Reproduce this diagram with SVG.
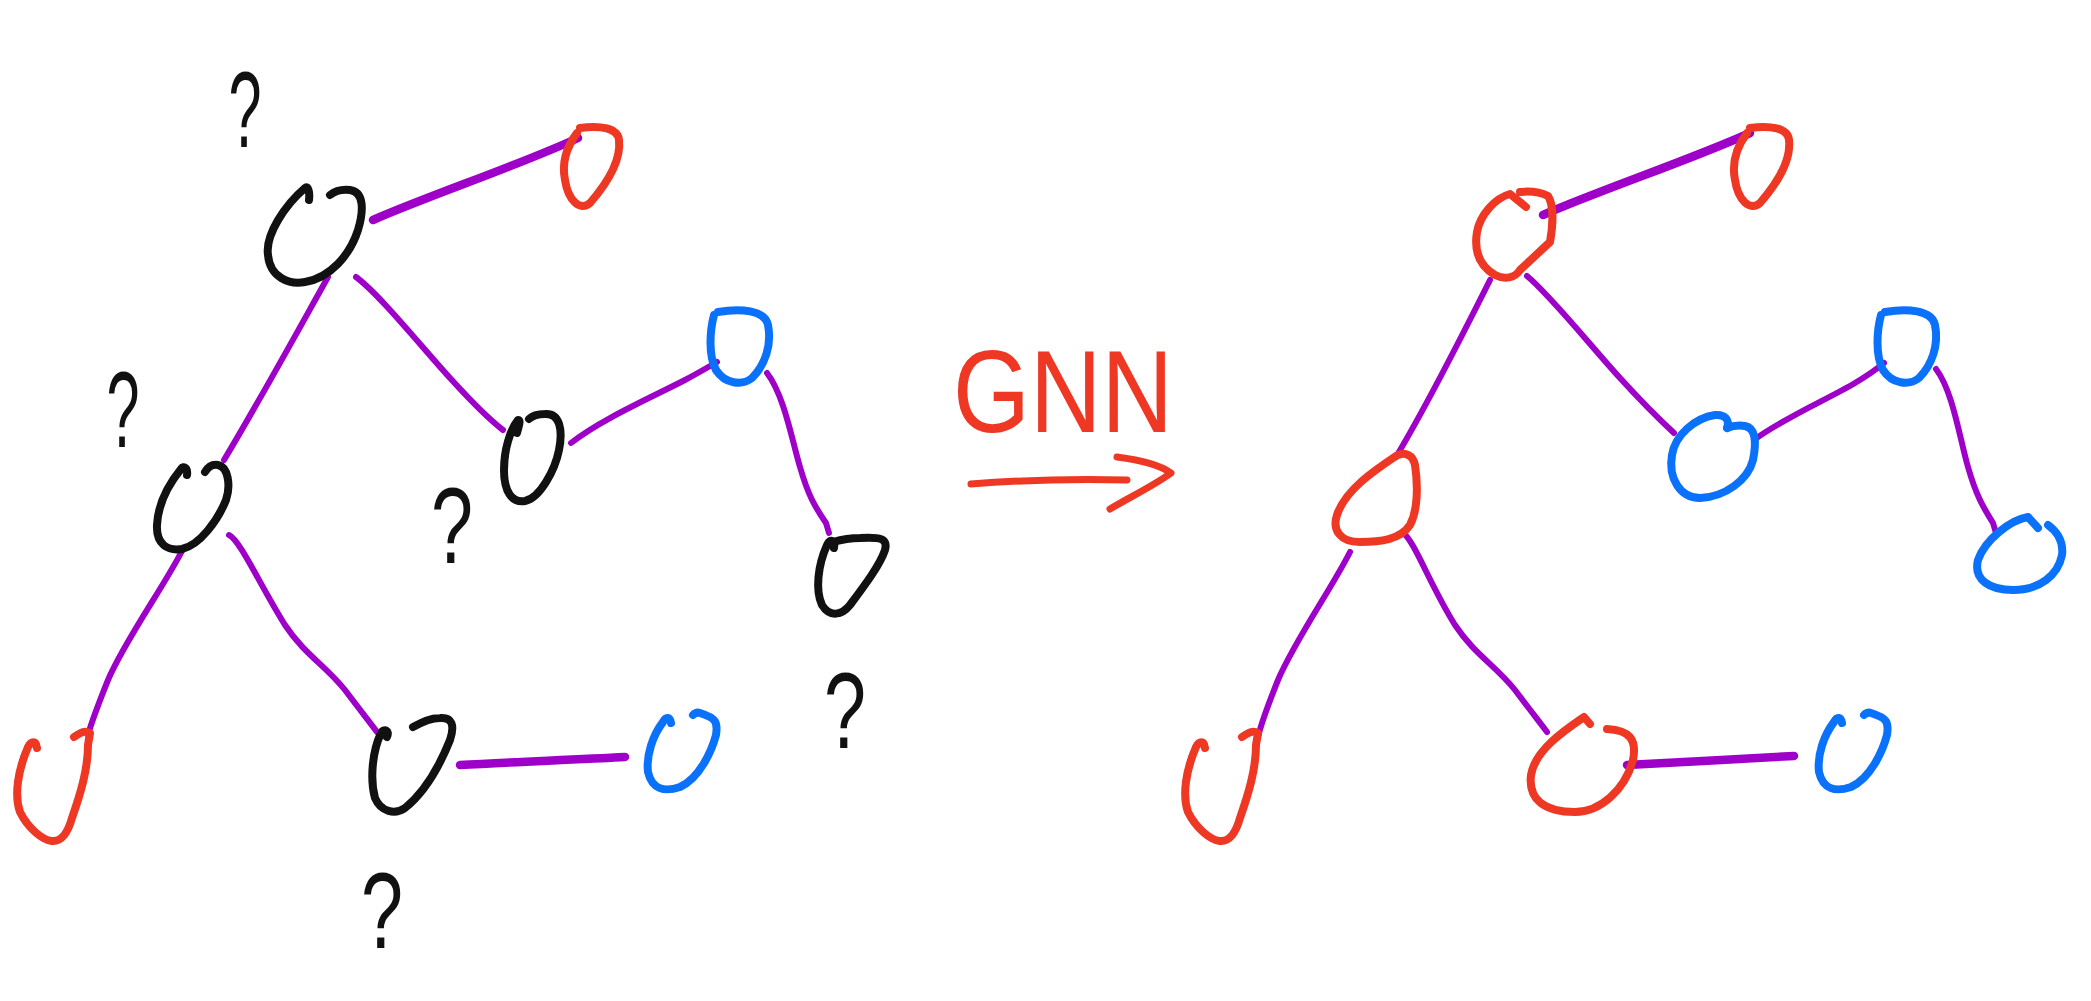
<svg xmlns="http://www.w3.org/2000/svg" width="2091" height="1001" viewBox="0 0 2091 1001">
<style>
.n{fill:none;stroke-width:8;stroke-linecap:round;stroke-linejoin:round}
.k{stroke:#111111}
.r{stroke:#EE3824}
.b{stroke:#0A72FA}
.e{fill:none;stroke:#9E00C9;stroke-width:6;stroke-linecap:round;stroke-linejoin:round}
.t{stroke-width:8.5}
.q{font-family:"Liberation Sans",Arial,sans-serif;font-size:108px;fill:#111111;text-anchor:middle}
.g{font-family:"Liberation Sans",Arial,sans-serif;font-size:117px;fill:#EE3824}
</style>
<rect width="2091" height="1001" fill="#ffffff"/>
<g id="connectors">
<path class="e t" d="M373,220 C430,195 520,165 578,138"/>
<path class="e" d="M328,277 C300,327 260,400 224,460"/>
<path class="e" d="M356,277 C380,295 420,345 450,378 C470,400 490,420 503,430"/>
<path class="e" d="M571,443 C600,420 650,398 685,380 C700,372 710,366 717,362"/>
<path class="e" d="M767,373 C784,395 792,440 800,467 C808,495 815,507 826,523 L829,533"/>
<path class="e" d="M183,549 C165,585 125,640 108,680 C98,705 92,720 88,735"/>
<path class="e" d="M229,535 C240,540 260,585 285,625 C305,655 325,665 345,690 C360,710 372,725 377,732"/>
<path class="e t" d="M460,765 C510,762 570,760 625,757"/>
<path class="e t" d="M1543,215 C1600,190 1690,160 1750,133"/>
<path class="e" d="M1490,280 C1465,330 1430,400 1396,457"/>
<path class="e" d="M1527,276 C1550,295 1590,345 1620,378 C1640,400 1660,420 1674,433"/>
<path class="e" d="M1754,440 C1780,420 1830,398 1855,383 C1870,374 1878,368 1884,363"/>
<path class="e" d="M1936,369 C1953,391 1960,440 1968,467 C1976,495 1983,507 1993,523 L1996,533"/>
<path class="e" d="M1350,552 C1332,588 1295,640 1278,680 C1268,705 1262,720 1258,737"/>
<path class="e" d="M1403,533 C1414,540 1430,585 1455,625 C1475,655 1495,665 1515,690 C1530,710 1542,725 1547,732"/>
<path class="e t" d="M1627,765 C1680,762 1740,759 1794,756"/>
</g>
<g id="left-root"><path class="n k" d="M309,200 C310,192 308,185 305,188 C285,205 265,235 268,255 C270,278 290,285 305,282 C330,278 350,255 358,230 C364,210 364,192 350,190 C342,189 335,191 330,195"/></g>
<g id="left-top-red"><path class="n r" d="M580,128 C600,125 618,128 619,140 C621,158 610,180 590,203 C580,212 568,200 565,180 C561,160 568,145 577,133"/></g>
<g id="left-mid"><path class="n k" d="M187,475 C188,468 184,465 181,469 C168,485 158,505 157,525 C156,545 168,551 182,549 C200,545 218,520 226,500 C231,485 228,467 218,465 C212,464 208,467 205,472"/></g>
<g id="left-center"><path class="n k" d="M517,433 C519,426 521,419 518,420 C510,430 504,450 504,470 C504,492 512,503 525,501 C540,498 555,470 559,450 C563,430 560,413 545,414 C538,414 532,416 529,419"/></g>
<g id="left-top-blue"><path class="n b" d="M718,312 C740,308 765,310 768,325 C772,345 765,365 752,378 C742,386 725,384 716,370 C708,355 710,330 714,315"/></g>
<g id="left-right-black"><path class="n k" d="M834,548 C836,540 830,538 827,545 C818,565 815,590 822,605 C830,618 842,615 850,605 C865,585 880,565 885,550 C888,538 880,537 860,538 C850,538 840,540 833,542"/></g>
<g id="left-bottom-red"><path class="n r" d="M37,748 C36,740 31,741 28,747 C18,770 14,795 20,812 C28,828 42,840 52,841 C62,842 68,832 72,818 C80,795 88,770 88,745 L90,733 C84,730 80,733 74,737"/></g>
<g id="left-bottom-mid"><path class="n k" d="M387,737 C390,730 384,728 381,733 C372,752 370,780 375,798 C381,812 395,815 405,808 C425,792 440,765 450,740 C455,725 452,717 440,718 C430,718 422,722 413,727"/></g>
<g id="left-bottom-blue"><path class="n b" d="M671,723 C670,717 666,716 663,722 C653,735 646,755 648,772 C652,790 665,792 680,787 C700,778 712,750 716,735 C718,722 716,718 700,713 C697,712 695,713 693,715"/></g>
<g id="q1"><text class="q" x="245" y="147" transform="translate(245,0) scale(0.55,1) translate(-245,0)">?</text></g>
<g id="q2"><text class="q" x="123" y="447" transform="translate(123,0) scale(0.55,1) translate(-123,0)">?</text></g>
<g id="q3"><text class="q" x="452" y="563" transform="translate(452,0) scale(0.7,1) translate(-452,0)">?</text></g>
<g id="q4"><text class="q" x="845" y="748" transform="translate(845,0) scale(0.7,1) translate(-845,0)">?</text></g>
<g id="q5"><text class="q" x="382" y="948" transform="translate(382,0) scale(0.7,1) translate(-382,0)">?</text></g>
<g id="gnn">
<text class="g" x="953" y="432" textLength="220" lengthAdjust="spacingAndGlyphs">GNN</text>
<path fill="none" stroke="#EE3824" stroke-width="7" stroke-linecap="round" stroke-linejoin="round" d="M971,484 C1020,480 1080,479 1127,480"/>
<path fill="none" stroke="#EE3824" stroke-width="7" stroke-linecap="round" stroke-linejoin="round" d="M1117,457 C1140,460 1160,465 1171,473 C1155,485 1130,497 1110,509"/>
</g>
<g id="right-root"><path class="n r" d="M1526,207 L1510,194 C1495,198 1480,215 1477,232 C1474,250 1478,265 1495,275 C1505,280 1515,278 1520,270 L1550,242 C1553,225 1554,205 1548,196 C1540,192 1530,191 1520,192"/></g>
<g id="right-top-red"><path class="n r" d="M1750,128 C1770,125 1788,128 1789,140 C1791,158 1780,180 1760,203 C1750,212 1738,200 1735,180 C1731,160 1738,145 1747,133"/></g>
<g id="right-mid"><path class="n r" d="M1396,456 C1375,470 1345,490 1337,515 C1332,530 1340,542 1360,542 C1380,542 1400,540 1410,525 C1418,510 1418,485 1415,465 C1413,455 1405,452 1398,455"/></g>
<g id="right-center"><path class="n b" d="M1727,428 C1730,420 1725,414 1715,415 C1695,418 1675,435 1672,455 C1668,478 1680,498 1700,498 C1725,497 1748,480 1753,460 C1757,440 1755,428 1745,426 C1738,425 1732,426 1727,428"/></g>
<g id="right-top-blue"><path class="n b" d="M1885,312 C1907,308 1932,310 1935,325 C1939,345 1932,365 1919,378 C1909,386 1892,384 1883,370 C1875,355 1877,330 1881,315"/></g>
<g id="right-right-blue"><path class="n b" d="M2038,528 L2028,517 C2010,520 1985,540 1978,560 C1973,580 1990,590 2013,590 C2040,590 2058,575 2062,555 C2064,540 2055,530 2048,525"/></g>
<g id="right-bottom-red"><path class="n r" d="M1205,748 C1204,740 1199,741 1196,747 C1186,770 1182,795 1188,812 C1196,828 1210,840 1220,841 C1230,842 1236,832 1240,818 C1248,795 1256,770 1256,745 L1258,733 C1252,730 1248,733 1242,737"/></g>
<g id="right-bottom-mid"><path class="n r" d="M1590,724 L1584,717 C1565,730 1535,750 1531,775 C1528,800 1545,812 1575,812 C1600,812 1625,790 1633,760 C1637,740 1630,730 1607,729"/></g>
<g id="right-bottom-blue"><path class="n b" d="M1842,723 C1841,717 1837,716 1834,722 C1824,735 1817,755 1819,772 C1823,790 1836,792 1851,787 C1871,778 1883,750 1887,735 C1889,722 1887,718 1871,713 C1868,712 1866,713 1864,715"/></g>
</svg>
